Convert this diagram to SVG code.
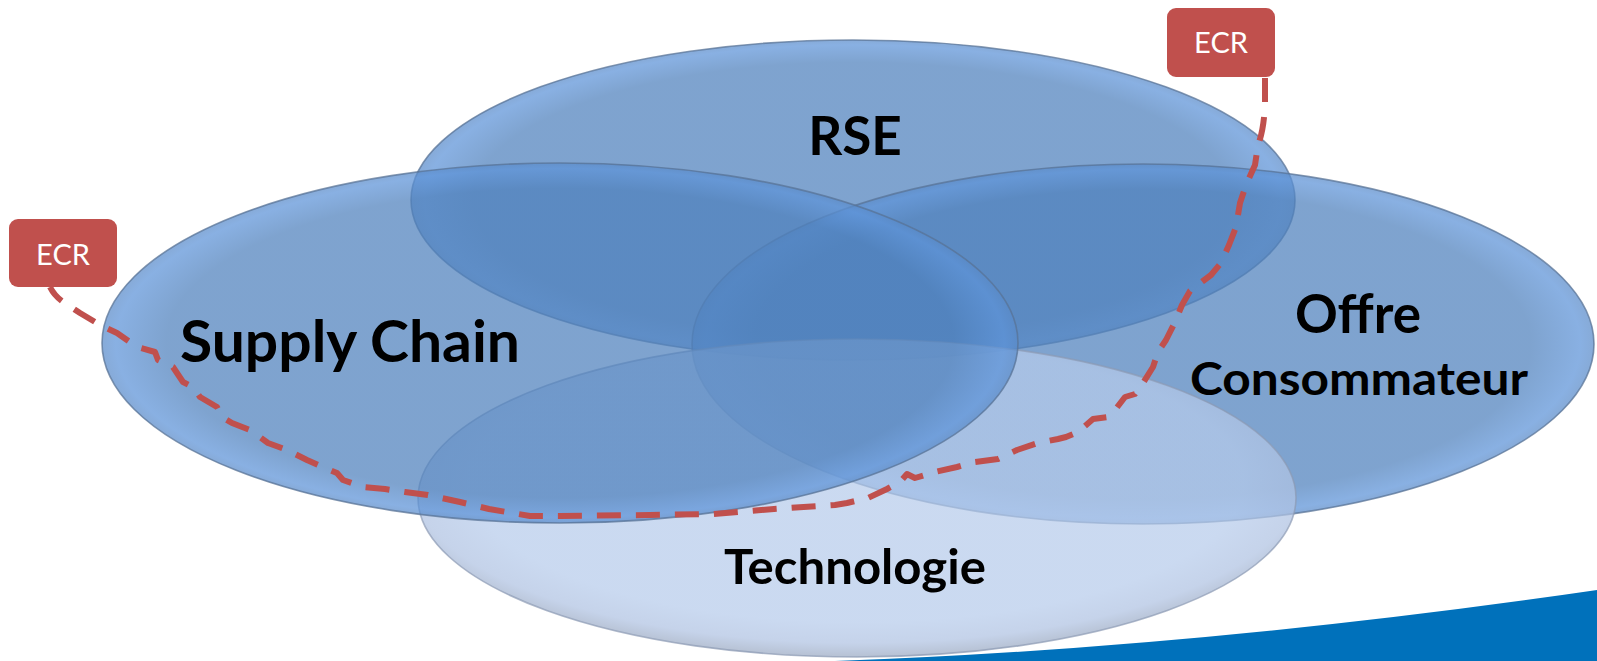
<svg xmlns="http://www.w3.org/2000/svg" width="1597" height="661" viewBox="0 0 1597 661">
  <defs>
    <radialGradient id="blueFill" cx="50%" cy="50%" r="50%">
      <stop offset="0" stop-color="#4F81BD"/>
      <stop offset="0.86" stop-color="#4F81BD"/>
      <stop offset="0.97" stop-color="#5D93D8"/>
      <stop offset="1" stop-color="#5A8BC9"/>
    </radialGradient>
    <radialGradient id="lightFill" cx="50%" cy="45%" r="55%">
      <stop offset="0" stop-color="#B6CBEB"/>
      <stop offset="0.8" stop-color="#B6CBEB"/>
      <stop offset="0.92" stop-color="#AFC2E2"/>
      <stop offset="1" stop-color="#9AA9C2"/>
    </radialGradient>
    <style>
      .blob { fill: url(#blueFill); fill-opacity: 0.73; stroke: #587396; stroke-opacity: 0.75; stroke-width: 1.6; }
      .blob-light { fill: url(#lightFill); fill-opacity: 0.72; stroke: #8C9AB3; stroke-opacity: 0.7; stroke-width: 1.6; }
      .label { font-family: Lato, "Open Sans", "Liberation Sans", sans-serif; font-weight: 700; fill: #000000; text-anchor: middle; }
      .tag rect { fill: #C0504D; }
      .tag text { font-family: Lato, "Open Sans", "Liberation Sans", sans-serif; font-size: 29px; fill: #FFFFFF; text-anchor: middle; }
      .route { fill: none; stroke: #C0504D; stroke-width: 6; stroke-dasharray: 24 15; stroke-linejoin: round; }
    </style>
  </defs>

  <rect width="1597" height="661" fill="#FFFFFF"/>

  <!-- blue swoosh, bottom right -->
  <path d="M 835 661 Q 1200 648 1597 590 L 1597 661 Z" fill="#0071BB"/>

  <!-- overlapping domains, back to front -->
  <g id="rse">
    <ellipse class="blob" cx="853" cy="200" rx="442" ry="160"/>
  </g>
  <g id="offre">
    <ellipse class="blob" cx="1143" cy="344" rx="451" ry="180"/>
  </g>
  <g id="technologie">
    <ellipse class="blob-light" cx="857" cy="498" rx="439" ry="159"/>
  </g>
  <g id="supply-chain">
    <ellipse class="blob" cx="560" cy="343" rx="458" ry="180"/>
  </g>

  <!-- labels on top of all shapes -->
  <g id="labels">
    <text class="label" x="855" y="155" font-size="53">RSE</text>
    <text class="label" x="350" y="362" font-size="57" textLength="340" lengthAdjust="spacingAndGlyphs">Supply Chain</text>
    <text class="label" x="1358" y="333" font-size="53">Offre</text>
    <text class="label" x="1359" y="395" font-size="46" textLength="338" lengthAdjust="spacingAndGlyphs">Consommateur</text>
    <text class="label" x="855" y="584" font-size="47" textLength="262" lengthAdjust="spacingAndGlyphs">Technologie</text>
  </g>

  <!-- ECR boundary line -->
  <g id="connectors">
    <path class="route" d="M 1265 78 L 1265 103 Q 1264 130 1258 145 L 1255 165 L 1246 185 L 1240 203 L 1236 227 L 1229 245 L 1221 263 L 1211 275 L 1203 281 L 1190 291 L 1182 305 L 1175 322 L 1166 340 L 1158 352 L 1153 367 L 1143 383 L 1135 394 L 1125 397 L 1115 410 L 1108 417 L 1093 419 L 1078 432 L 1066 437 L 1058 439 L 1038 443 L 1017 450 L 998 459 L 975 462 L 957 467 L 935 472 L 915 478 L 907 474 L 900 482 L 887 489 L 868 498 L 847 503 L 835 505 L 774 509 L 713 514 L 650 515 L 560 516 L 530 516 L 489 509 L 460 502 L 428 495 L 405 492 L 385 489 L 363 487 L 343 480 L 337 473 L 325 468 L 307 460 L 287 450 L 268 443 L 250 430 L 232 423 L 222 417 L 217 407 L 200 397 L 193 387 L 183 382 L 173 367 L 158 360 L 155 352 L 137 347 L 117 333 L 100 325 L 80 313 L 65 303 Q 55 297 50 287"/>
  </g>

  <!-- ECR callouts -->
  <g id="ecr-left" class="tag">
    <rect x="9" y="219" width="108" height="68" rx="9"/>
    <text x="63" y="265">ECR</text>
  </g>
  <g id="ecr-right" class="tag">
    <rect x="1167" y="8" width="108" height="69" rx="9"/>
    <text x="1221" y="53">ECR</text>
  </g>
</svg>
